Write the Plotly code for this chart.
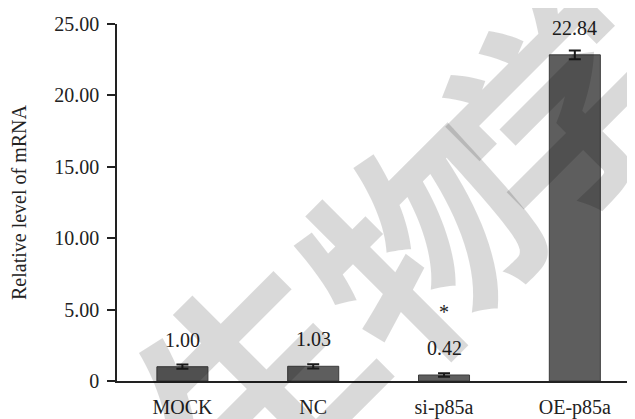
import plotly.graph_objects as go

categories = ["MOCK", "NC", "si-p85a", "OE-p85a"]
values = [1.00, 1.03, 0.42, 22.84]
errors = [0.15, 0.15, 0.12, 0.30]
value_labels = ["1.00", "1.03", "0.42", "22.84"]
marks = ["", "", "*", ""]
ytick_vals = [0, 5, 10, 15, 20, 25]
ytick_text = ["0", "5.00", "10.00", "15.00", "20.00", "25.00"]

FONT = "Liberation Serif, Times New Roman, serif"
FS = 20

fig = go.Figure()
fig.add_trace(go.Bar(
    x=categories, y=values,
    width=0.39,
    marker=dict(color="#5e5e5e", line=dict(color="#3c3c3c", width=1)),
    error_y=dict(type="data", array=errors, visible=True, color="#1a1a1a",
                 thickness=2, width=6),
))

for c, v, t, m in zip(categories, values, value_labels, marks):
    fig.add_annotation(x=c, y=v, text=t, showarrow=False, yanchor="middle",
                       yshift=27, font=dict(family=FONT, size=FS, color="#222"))
    if m:
        fig.add_annotation(x=c, y=v, text=m, showarrow=False, yanchor="middle",
                           yshift=63, font=dict(family=FONT, size=FS, color="#222"))

# faint watermark
for ch, px, py in [("生", 0.25, 0.03), ("物", 0.575, 0.41), ("学", 0.84, 0.79)]:
    fig.add_annotation(xref="paper", yref="paper", x=px, y=py, text=ch,
                       xanchor="center", yanchor="middle",
                       showarrow=False, textangle=-45,
                       font=dict(family="Noto Sans CJK SC", size=220,
                                 weight="bold", color="rgba(0,0,0,0.15)"))

# page body adds an 8px offset, so the figure is 8px smaller than the window
fig.update_layout(
    width=627, height=411,
    margin=dict(l=109, r=0, t=16, b=38, autoexpand=False),
    paper_bgcolor="white", plot_bgcolor="white",
    showlegend=False,
    font=dict(family=FONT, size=FS, color="#222"),
    xaxis=dict(range=[-0.5, 3.46], showline=True, linecolor="#222",
               linewidth=1.5, ticks="", showgrid=False, zeroline=False,
               automargin=False,
               ticklabelstandoff=7, tickfont=dict(family=FONT, size=FS)),
    yaxis=dict(range=[0, 25], tickvals=ytick_vals, ticktext=ytick_text,
               showline=True, linecolor="#222", linewidth=1.5,
               ticks="outside", ticklen=8, tickwidth=1.5, tickcolor="#222",
               showgrid=False, zeroline=False, ticklabelstandoff=4,
               automargin=False,
               tickfont=dict(family=FONT, size=FS),
               title=dict(text="Relative level of mRNA", standoff=25,
                          font=dict(family=FONT, size=FS))),
)

fig.write_html("out.html")
